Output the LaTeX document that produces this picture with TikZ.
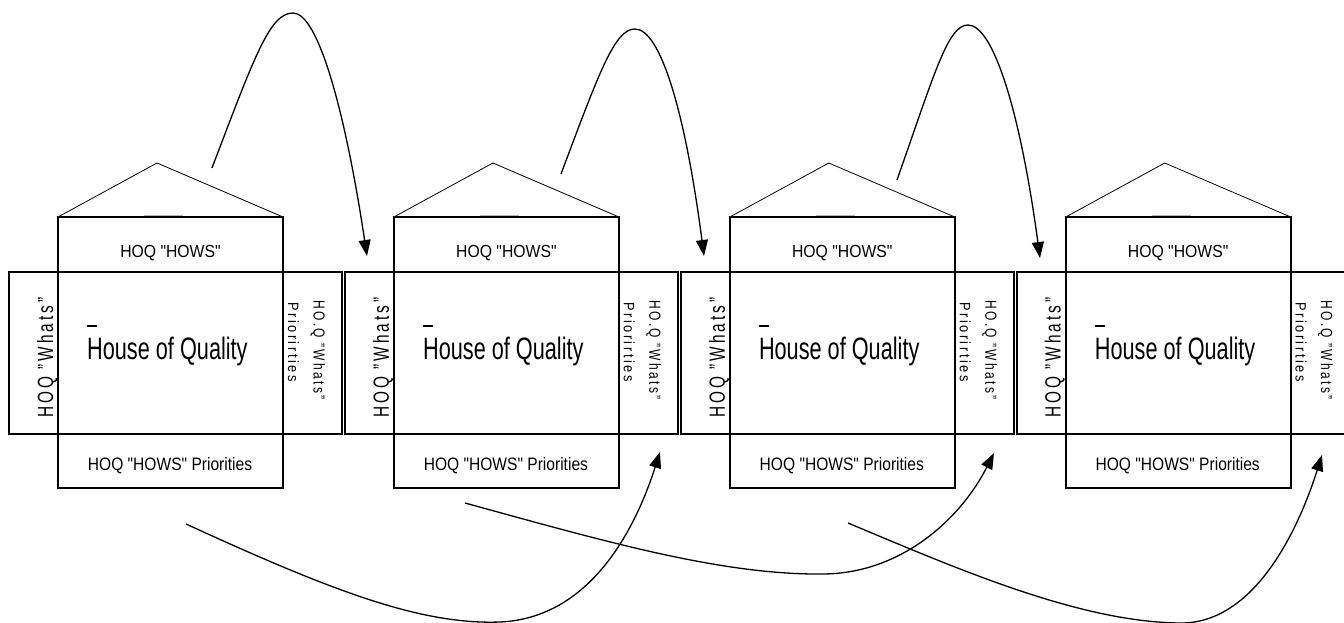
\documentclass[tikz,border=0pt]{standalone}
\usepackage{fontspec}
\usepackage{graphicx}
\setmainfont{Liberation Sans}
\newfontfamily\fbig{Liberation Sans}[FakeStretch=0.70]
\newfontfamily\fmid{Liberation Sans}[FakeStretch=0.90]
\newfontfamily\fprio{Liberation Sans}[FakeStretch=0.865]
\usetikzlibrary{arrows.meta}

% letter-spaced word: \spread{gap}{letters}
\ExplSyntaxOn
\NewDocumentCommand\spread{mm}{\tl_map_inline:nn{#2}{##1\kern#1}\unkern}
\ExplSyntaxOff

\begin{document}
\begin{tikzpicture}[x=1pt,y=-1pt,
  frame/.style={line width=1.6pt},
  roof/.style={line width=0.8pt},
  flow/.style={line width=1.3pt,-{Triangle[length=16pt,width=12pt]}},
  lbl/.style={inner sep=0pt,text=black}]
\useasboundingbox (0,0) rectangle (1344,623);

% four houses of quality, side by side
\foreach \i in {1,...,4}{
  \pgfmathsetmacro{\xo}{58+335.9*(\i-1)}
  \begin{scope}[xshift=\xo]
    % roof
    \draw[roof] (0,217) -- (99,163) -- (225,217);
    % central column (hows, matrix, priorities)
    \draw[frame] (0,217) rectangle (225,488);
    % horizontal band (whats, matrix, whats priorities)
    \draw[frame] (-49,272) rectangle (284,434);
    % small marks
    \draw[gray!55,line width=1.3pt] (86,215.3) -- (125,215.3);
    \draw[line width=1.2pt] (29,326) -- (39,326);
    % texts
    \node[lbl,anchor=base] (hows\i) at (112.5,257)
      {\fmid\fontsize{17.5}{20}\selectfont HOQ "HOWS"};
    \node[lbl,anchor=base west] (hoq\i) at (29,359)
      {\fbig\fontsize{31}{34}\selectfont House of Quality};
    \node[lbl,anchor=base] (prio\i) at (112,470)
      {\fprio\fontsize{18}{20}\selectfont HOQ "HOWS" Priorities};
    \node[lbl,anchor=base,rotate=90] (whats\i) at (-5,357.5)
      {\fontsize{22}{24}\selectfont\scalebox{0.7}[1]{%
       \spread{4.3pt}{HOQ}\kern10pt\spread{4.3pt}{"Whats"}}};
    \node[lbl,anchor=base west,rotate=-90] (wpa\i) at (255.5,300)
      {\fontsize{16}{18}\selectfont\scalebox{0.75}[1]{%
       \spread{3.2pt}{HO.Q}\kern6.7pt\spread{3.2pt}{"Whats"}}};
    \node[lbl,anchor=base west,rotate=-90] (wpb\i) at (230,302)
      {\fontsize{15}{17}\selectfont\scalebox{0.85}[1]{%
       \spread{3pt}{Priorirties}}};
  \end{scope}
}

% upper arrows: roof of one house to the "whats" of the next
\coordinate (u1s) at (212,168);  \coordinate (u1e) at (367,256);
\coordinate (u2s) at (561,174);  \coordinate (u2e) at (704,256);
\coordinate (u3s) at (897,180);  \coordinate (u3e) at (1040,258);
\draw[flow] (u1s) .. controls (255,55) and (270,13) .. (293,13)
  .. controls (318,13) and (345,110) .. (u1e);
\draw[flow] (u2s) .. controls (600,70) and (615,29) .. (635,29)
  .. controls (660,29) and (685,110) .. (u2e);
\draw[flow] (u3s) .. controls (935,72) and (948,25) .. (968,25)
  .. controls (993,25) and (1020,110) .. (u3e);

% lower arrows: under one house to the priorities side of the next
\coordinate (l1s) at (186,524);  \coordinate (l1e) at (660,452);
\coordinate (l2s) at (465,503);  \coordinate (l2e) at (994,453);
\coordinate (l3s) at (848,523);  \coordinate (l3e) at (1322,455);
\draw[flow] (l1s) .. controls (330,590) and (420,625) .. (500,622)
  .. controls (590,618) and (635,530) .. (l1e);
\draw[flow] (l2s) .. controls (600,540) and (720,575) .. (822,574)
  .. controls (900,574) and (960,520) .. (l2e);
\draw[flow] (l3s) .. controls (960,570) and (1080,622) .. (1180,623)
  .. controls (1250,624) and (1295,540) .. (l3e);
\end{tikzpicture}
\end{document}
